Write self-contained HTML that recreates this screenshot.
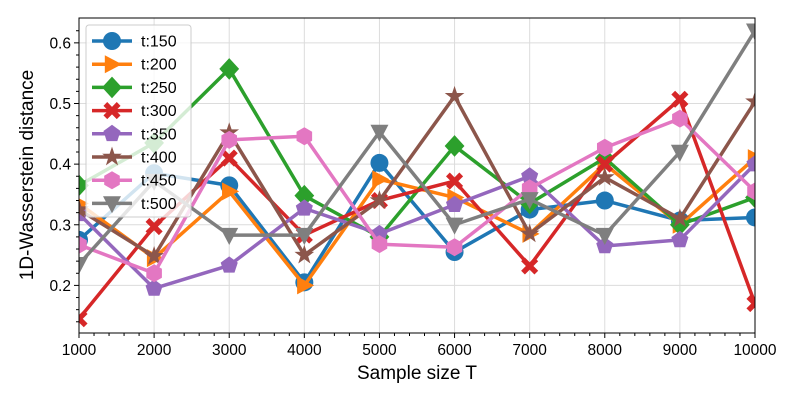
<!DOCTYPE html>
<html><head><meta charset="utf-8"><style>
body{margin:0;background:#fff}
svg{font-family:"Liberation Sans","DejaVu Sans",sans-serif}
</style></head><body>
<svg id="chart" width="800" height="400" xmlns="http://www.w3.org/2000/svg"></svg>
<script>
const categories=[1000,2000,3000,4000,5000,6000,7000,8000,9000,10000];
const seriesNames=["t:150","t:200","t:250","t:300","t:350","t:400","t:450","t:500"];
const s150=[0.275,0.385,0.365,0.205,0.402,0.255,0.325,0.34,0.307,0.312];
const s200=[0.335,0.245,0.355,0.20,0.375,0.345,0.285,0.40,0.30,0.41];
const s250=[0.365,0.435,0.557,0.348,0.28,0.43,0.335,0.41,0.30,0.345];
const s300=[0.145,0.297,0.41,0.283,0.34,0.372,0.232,0.40,0.507,0.17];
const s350=[0.318,0.195,0.233,0.327,0.285,0.333,0.38,0.265,0.275,0.40];
const s400=[0.325,0.248,0.452,0.25,0.34,0.512,0.285,0.378,0.31,0.503];
const s450=[0.267,0.22,0.44,0.446,0.268,0.263,0.36,0.427,0.475,0.355];
const s500=[0.235,0.372,0.283,0.283,0.453,0.3,0.342,0.283,0.42,0.62];
const xTicks=[1000,2000,3000,4000,5000,6000,7000,8000,9000,10000];
const yTicks=[0.2,0.3,0.4,0.5,0.6];
const colors=["#1f77b4","#ff7f0e","#2ca02c","#d62728","#9467bd","#8c564b","#e377c2","#7f7f7f"];
const markers=["circle","tri-right","diamond","x","pentagon","star","hexagon","tri-down"];
const allSeries=[s150,s200,s250,s300,s350,s400,s450,s500];
const L=79,R=755,T=18,B=333,ymin=0.1215,ymax=0.641;
const xs=v=>L+(v-1000)/9000*(R-L);
const ys=v=>B-(v-ymin)/(ymax-ymin)*(B-T);
const svg=document.getElementById('chart');
const NS="http://www.w3.org/2000/svg";
function mk(tag,attrs,parent){const e=document.createElementNS(NS,tag);for(const k in attrs)e.setAttribute(k,attrs[k]);(parent||svg).appendChild(e);return e;}
const defs=mk('clipPath',{id:'clip'});mk('rect',{x:L,y:T,width:R-L,height:B-T},defs);
const grid=mk('g',{});


xTicks.forEach(t=>{mk('line',{x1:xs(t),x2:xs(t),y1:T,y2:B,stroke:'#dcdcdc','stroke-width':1},grid);});
yTicks.forEach(t=>{mk('line',{x1:L,x2:R,y1:ys(t),y2:ys(t),stroke:'#dcdcdc','stroke-width':1},grid);});
const axes=mk('g',{});


xTicks.forEach(t=>{mk('line',{x1:xs(t),x2:xs(t),y1:B,y2:B+5,stroke:'#000'},axes);
 const tx=mk('text',{x:xs(t),y:B+22,'text-anchor':'middle','font-size':15.5},axes);tx.textContent=t;
 });
for(let v=1000;v<=10000;v+=200){if(v%1000)mk('line',{x1:xs(v),x2:xs(v),y1:B,y2:B+3,stroke:'#000'},axes);}
yTicks.forEach(t=>{mk('line',{x1:L-5,x2:L,y1:ys(t),y2:ys(t),stroke:'#000'},axes);
 const tx=mk('text',{x:L-8,y:ys(t)+5.5,'text-anchor':'end','font-size':15.5},axes);tx.textContent=t.toFixed(1);
 });
for(let v=0.14;v<0.64;v+=0.02){const r=Math.round(v*100);if(r%10)mk('line',{x1:L-3,x2:L,y1:ys(r/100),y2:ys(r/100),stroke:'#000'},axes);}
function marker(type,x,y,c,g,sz){
 const s=sz||9;let pts;
 switch(type){
 case 'circle':return mk('circle',{cx:x,cy:y,r:s,fill:c},g);
 case 'tri-right':pts=[[x+s*1.1,y],[x-s*0.8,y-s],[x-s*0.8,y+s]];break;
 case 'tri-down':pts=[[x,y+s*1.1],[x-s,y-s*0.8],[x+s,y-s*0.8]];break;
 case 'diamond':pts=[[x,y-s*1.2],[x+s*1.1,y],[x,y+s*1.2],[x-s*1.1,y]];break;
 case 'pentagon':pts=[];for(let i=0;i<5;i++){const a=-Math.PI/2+i*2*Math.PI/5;pts.push([x+s*Math.cos(a),y+s*Math.sin(a)]);}break;
 case 'hexagon':pts=[];for(let i=0;i<6;i++){const a=-Math.PI/2+i*Math.PI/3;pts.push([x+s*Math.cos(a),y+s*Math.sin(a)]);}break;
 case 'star':pts=[];for(let i=0;i<10;i++){const a=-Math.PI/2+i*Math.PI/5;const r=i%2?s*0.45:s*1.15;pts.push([x+r*Math.cos(a),y+r*Math.sin(a)]);}break;
 case 'x':{const a=s*0.95,w=s*0.42;pts=[[x-a,y-a+w],[x-a+w,y-a],[x,y-w],[x+a-w,y-a],[x+a,y-a+w],[x+w,y],[x+a,y+a-w],[x+a-w,y+a],[x,y+w],[x-a+w,y+a],[x-a,y+a-w],[x-w,y]];break;}
 }
 return mk('polygon',{points:pts.map(p=>p.join(',')).join(' '),fill:c},g);
}
const plot=mk('g',{'clip-path':'url(#clip)'});
allSeries.forEach((data,i)=>{
 const g=mk('g',{},plot);
 
 
 mk('polyline',{points:data.map((v,j)=>xs(categories[j])+','+ys(v)).join(' '),fill:'none',stroke:colors[i],'stroke-width':3.5,'stroke-linejoin':'round'},g);
 data.forEach((v,j)=>{const m=marker(markers[i],xs(categories[j]),ys(v),colors[i],g);
  });
});
mk('rect',{x:L,y:T,width:R-L,height:B-T,fill:'none',stroke:'#000','stroke-width':1});
const lg=mk('g',{});


mk('rect',{x:86,y:25,width:105,height:192,rx:3,fill:'#fff','fill-opacity':0.8,stroke:'#ccc'},lg);
seriesNames.forEach((n,i)=>{
 const y=41+i*23.2;
 const e=mk('g',{},lg);
 
 
 mk('line',{x1:92,x2:132,y1:y,y2:y,stroke:colors[i],'stroke-width':3.5},e);
 marker(markers[i],112,y,colors[i],e);
 const t=mk('text',{x:141,y:y+5.5,'font-size':16},e);t.textContent=n;
});
const xl=mk('text',{x:417,y:379,'text-anchor':'middle','font-size':19});xl.textContent='Sample size T';

const yl=mk('text',{x:0,y:0,'text-anchor':'middle','font-size':19,transform:'translate(33,175) rotate(-90)'});yl.textContent='1D-Wasserstein distance';

</script>
</body></html>
